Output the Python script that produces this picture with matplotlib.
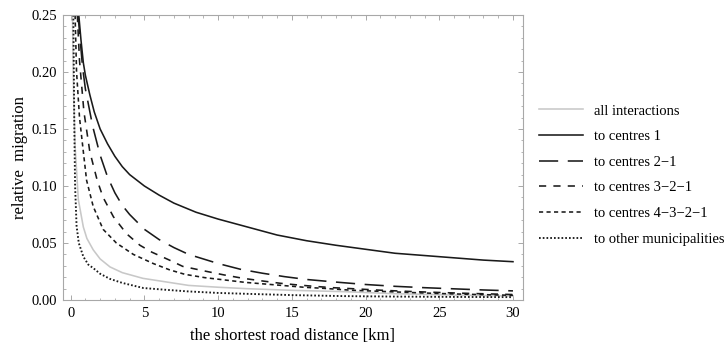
import matplotlib.pyplot as plt
from matplotlib.ticker import MultipleLocator, FormatStrFormatter

plt.rcParams["font.family"] = ["Liberation Serif", "DejaVu Serif"]

# valores (distancia en km, migracion relativa)
dist_all = [0.12, 0.2, 0.3, 0.52, 0.86, 1.1, 1.53, 2.0, 2.67, 3.5, 4.9, 6.4, 8.0, 10.0, 12.0, 15.0, 18.6, 22.0, 26.0, 30.0]
mig_all = [0.25, 0.18, 0.135, 0.088, 0.064, 0.054, 0.044, 0.036, 0.029, 0.024, 0.019, 0.016, 0.0128, 0.0112, 0.0099, 0.0085, 0.0073, 0.0055, 0.0044, 0.0036]

dist_c1 = [0.55, 0.7, 0.86, 1.0, 1.3, 1.6, 2.0, 2.5, 3.0, 3.5, 4.0, 5.0, 6.0, 7.0, 8.5, 10.0, 12.0, 14.0, 16.0, 18.0, 20.0, 22.0, 24.0, 26.0, 28.0, 30.0]
mig_c1 = [0.25, 0.228, 0.208, 0.197, 0.18, 0.165, 0.15, 0.137, 0.126, 0.117, 0.11, 0.10, 0.092, 0.085, 0.077, 0.071, 0.064, 0.057, 0.052, 0.048, 0.0445, 0.041, 0.039, 0.037, 0.035, 0.0336]

dist_c21 = [0.5, 0.8, 1.0, 1.5, 2.0, 2.5, 3.0, 3.5, 4.0, 5.0, 6.0, 7.0, 8.0, 9.0, 10.0, 11.5, 13.0, 14.5, 16.0, 18.0, 20.0, 22.0, 24.0, 26.0, 28.0, 30.0]
mig_c21 = [0.25, 0.205, 0.185, 0.152, 0.127, 0.108, 0.094, 0.083, 0.075, 0.062, 0.053, 0.046, 0.040, 0.036, 0.032, 0.027, 0.0235, 0.0205, 0.018, 0.0157, 0.0136, 0.012, 0.0108, 0.0098, 0.0088, 0.008]

dist_c321 = [0.45, 0.6, 0.9, 1.3, 1.8, 2.2, 2.9, 3.8, 4.7, 5.5, 6.7, 7.6, 9.1, 10.4, 11.7, 13.0, 14.2, 15.4, 16.7, 17.8, 19.0, 21.0, 23.0, 25.0, 27.0, 30.0]
mig_c321 = [0.25, 0.21, 0.165, 0.13, 0.105, 0.09, 0.073, 0.058, 0.048, 0.042, 0.035, 0.0295, 0.0254, 0.022, 0.019, 0.0167, 0.0147, 0.0132, 0.0118, 0.0108, 0.0100, 0.0086, 0.0075, 0.0066, 0.0058, 0.0048]

dist_c4321 = [0.3, 0.4, 0.6, 0.86, 1.08, 1.53, 2.2, 3.1, 4.25, 5.6, 6.7, 7.75, 9.1, 10.5, 11.8, 13.2, 14.5, 15.9, 17.2, 19.0, 21.0, 23.0, 25.0, 27.0, 30.0]
mig_c4321 = [0.25, 0.2, 0.16, 0.13, 0.105, 0.082, 0.062, 0.05, 0.04, 0.032, 0.0265, 0.0225, 0.0196, 0.0175, 0.0155, 0.014, 0.0126, 0.0111, 0.0102, 0.0086, 0.0076, 0.0066, 0.0057, 0.005, 0.0041]

dist_other = [0.18, 0.25, 0.3, 0.4, 0.55, 0.86, 1.2, 1.53, 2.0, 2.67, 3.5, 4.93, 6.4, 8.0, 10.0, 12.5, 15.0, 18.6, 22.0, 26.0, 30.0]
mig_other = [0.25, 0.15, 0.10, 0.065, 0.05, 0.038, 0.031, 0.028, 0.023, 0.0185, 0.015, 0.0105, 0.009, 0.0075, 0.0062, 0.0052, 0.0043, 0.0034, 0.003, 0.0027, 0.0025]

labels = ["all interactions", "to centres 1", "to centres 2\u22121",
          "to centres 3\u22122\u22121", "to centres 4\u22123\u22122\u22121",
          "to other municipalities"]

fig = plt.figure(figsize=(7.25, 3.45), dpi=100)
ax = fig.add_axes([63 / 725, 45 / 345, (522.7 - 63) / 725, 285 / 345])

lw = 1.15
ink = "#1a1a1a"
ax.plot(dist_all, mig_all, color="#c8c8c8", lw=lw, label=labels[0])
ax.plot(dist_c1, mig_c1, color=ink, lw=lw, label=labels[1])
ax.plot(dist_c21, mig_c21, color=ink, lw=lw, dashes=(12, 6), label=labels[2])
ax.plot(dist_c321, mig_c321, color=ink, lw=lw, dashes=(4.5, 4.5), label=labels[3])
ax.plot(dist_c4321, mig_c4321, color=ink, lw=lw, dashes=(2.6, 2.1), label=labels[4])
ax.plot(dist_other, mig_other, color=ink, lw=1.35, dashes=(0.9, 1.1), label=labels[5])

ax.set_xlim(-0.52, 30.66)
ax.set_ylim(0, 0.25)
ax.xaxis.set_major_locator(MultipleLocator(5))
ax.xaxis.set_minor_locator(MultipleLocator(1))
ax.yaxis.set_major_locator(MultipleLocator(0.05))
ax.yaxis.set_minor_locator(MultipleLocator(0.01))
ax.yaxis.set_major_formatter(FormatStrFormatter("%.2f"))

for s in ax.spines.values():
    s.set_color("#a8a8a8")
    s.set_linewidth(0.8)
ax.tick_params(which="both", direction="in", top=True, right=True, color="#a8a8a8", labelsize=10.5)
ax.tick_params(which="major", length=3.5, width=0.7)
ax.tick_params(axis="x", which="major", pad=5)
ax.tick_params(axis="y", which="major", pad=4)
ax.tick_params(which="minor", length=1.8, width=0.6)

ax.set_xlabel("the shortest road distance [km]", fontsize=12, labelpad=6)
ax.set_ylabel("relative  migration", fontsize=12, labelpad=3)

fig.legend(loc="center left", bbox_to_anchor=(539 / 725, 1 - 175 / 345), frameon=False,
           fontsize=10.5, handlelength=3.0, handletextpad=0.75, labelspacing=0.85,
           borderpad=0, borderaxespad=0)

plt.savefig("out.png", dpi=100)
plt.close()
